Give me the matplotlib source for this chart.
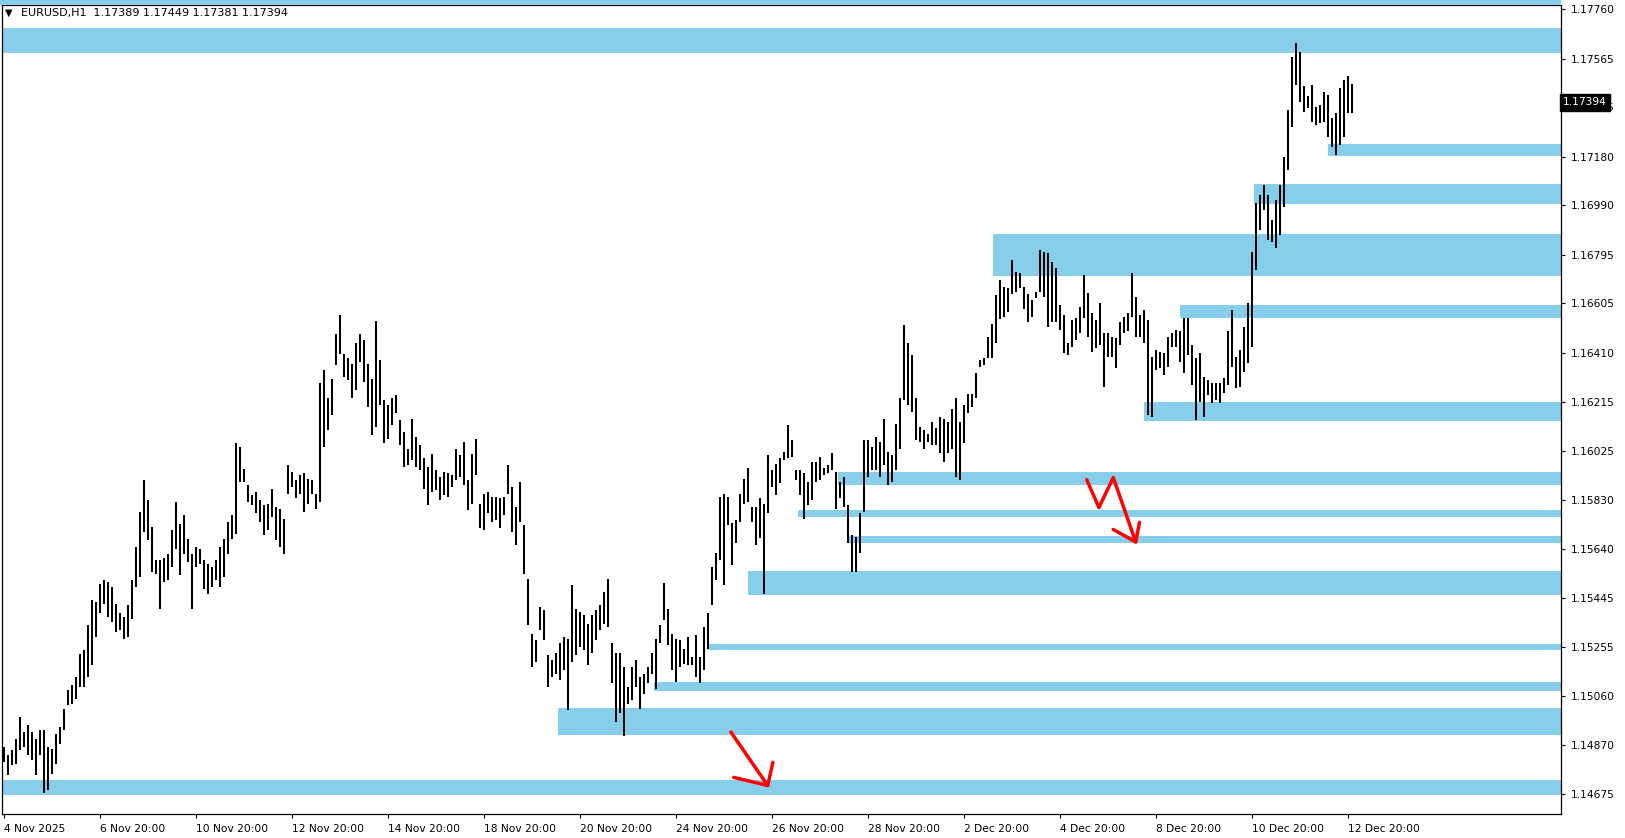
import matplotlib
matplotlib.use("Agg")
import matplotlib.pyplot as plt
from matplotlib.patches import Rectangle
import numpy as np

# EURUSD H1, one sample for every second bar
# prices given in points (0.00001) above 1.14000
highs_pts = [
    862, 829, 848, 894, 979, 921, 947, 921, 894, 927,
    927, 862, 855, 914, 940, 1012, 1084, 1104, 1137, 1228,
    1241, 1340, 1438, 1431, 1503, 1517, 1510, 1490, 1425, 1386,
    1372, 1418, 1517, 1648, 1785, 1910, 1831, 1726, 1595, 1595,
    1602, 1621, 1713, 1824, 1739, 1772, 1680, 1621, 1648, 1641,
    1595, 1582, 1569, 1595, 1648, 1680, 1746, 1772, 2054, 2041,
    1955, 1890, 1851, 1864, 1831, 1811, 1818, 1877, 1805, 1798,
    1759, 1969, 1942, 1910, 1929, 1936, 1916, 1910, 1857, 2290,
    2342, 2231, 2309, 2486, 2558, 2407, 2388, 2368, 2447, 2486,
    2460, 2368, 2309, 2534, 2381, 2224, 2204, 2231, 2244, 2145,
    2100, 2034, 2152, 2080, 2047, 1995, 1962, 2014, 1949, 1923,
    1942, 1936, 1929, 2034, 2008, 2060, 1910, 2014, 2073, 1818,
    1857, 1864, 1844, 1844, 1838, 1844, 1969, 1883, 1805, 1903,
    1733, 1520, 1307, 1281, 1412, 1399, 1222, 1202, 1229, 1268,
    1294, 1287, 1497, 1405, 1392, 1379, 1346, 1379, 1399, 1419,
    1471, 1523, 1268, 1229, 1229, 1176, 1098, 1176, 1202, 1137,
    1150, 1176, 1229, 1287, 1340, 1504, 1405, 1307, 1287, 1281,
    1248, 1294, 1215, 1301, 1215, 1333, 1386, 1569, 1622, 1844,
    1857, 1844, 1740, 1753, 1857, 1916, 1956, 1805, 1805, 1838,
    1818, 2008, 1949, 1975, 1995, 2021, 2126, 2067, 1949, 1949,
    1936, 1903, 1982, 1982, 2001, 1956, 1969, 2015, 1943, 1903,
    1923, 1812, 1694, 1687, 1779, 2067, 2067, 2041, 2080, 2060,
    2152, 2021, 2008, 2132, 2231, 2519, 2447, 2401, 2231, 2119,
    2106, 2093, 2139, 2113, 2159, 2152, 2139, 2191, 2231, 2139,
    2205, 2250, 2250, 2329, 2381, 2388, 2473, 2525, 2637, 2696,
    2670, 2663, 2774, 2729, 2722, 2670, 2643, 2617, 2650, 2816,
    2807, 2803, 2768, 2742, 2597, 2558, 2447, 2539, 2546, 2592,
    2716, 2644, 2565, 2539, 2605, 2487, 2487, 2474, 2467, 2533,
    2552, 2565, 2723, 2631, 2559, 2579, 2539, 2395, 2421, 2415,
    2408, 2474, 2487, 2500, 2494, 2546, 2546, 2441, 2389, 2408,
    2317, 2303, 2290, 2290, 2290, 2310, 2494, 2579, 2395, 2421,
    2513, 2605, 2808, 2998, 3031, 3070, 3031, 2932, 3011, 3070,
    3181, 3365, 3574, 3627, 3594, 3459, 3420, 3463, 3375, 3384,
    3437, 3423, 3332, 3351, 3450, 3482, 3498, 3467,
]
lows_pts = [
    803, 750, 790, 796, 848, 862, 829, 809, 750, 829,
    681, 691, 757, 796, 875, 927, 1025, 1032, 1051, 1097,
    1097, 1137, 1183, 1294, 1386, 1425, 1372, 1353, 1314, 1320,
    1287, 1294, 1366, 1490, 1530, 1707, 1674, 1549, 1543, 1405,
    1510, 1517, 1569, 1641, 1536, 1621, 1589, 1405, 1569, 1582,
    1484, 1464, 1490, 1517, 1490, 1530, 1621, 1680, 1700, 1903,
    1903, 1824, 1811, 1779, 1746, 1693, 1713, 1765, 1674, 1648,
    1621, 1857, 1883, 1838, 1857, 1785, 1818, 1857, 1798, 1824,
    2041, 2106, 2165, 2361, 2407, 2316, 2303, 2231, 2263, 2375,
    2296, 2198, 2086, 2119, 2204, 2054, 2073, 2126, 2172, 2047,
    1962, 1969, 1988, 1962, 1949, 1877, 1811, 1864, 1870, 1831,
    1851, 1844, 1883, 1910, 1923, 1890, 1792, 1818, 1929, 1720,
    1713, 1779, 1746, 1752, 1720, 1772, 1857, 1707, 1654, 1746,
    1543, 1340, 1176, 1196, 1320, 1281, 1098, 1137, 1150, 1124,
    1163, 1006, 1196, 1222, 1255, 1242, 1183, 1229, 1281, 1320,
    1346, 1333, 1111, 960, 993, 905, 1032, 1045, 1098, 1012,
    1071, 1111, 1150, 1091, 1268, 1360, 1261, 1163, 1117, 1176,
    1189, 1183, 1183, 1137, 1111, 1163, 1248, 1419, 1517, 1595,
    1497, 1733, 1576, 1661, 1746, 1818, 1825, 1746, 1654, 1681,
    1464, 1779, 1884, 1851, 1897, 1988, 1995, 2001, 1910, 1851,
    1759, 1812, 1831, 1903, 1910, 1929, 1936, 1949, 1798, 1838,
    1805, 1661, 1550, 1550, 1622, 1785, 1923, 1949, 1949, 1923,
    1969, 1890, 1903, 1949, 2034, 2224, 2205, 2178, 2067, 2060,
    2034, 2060, 2047, 2047, 2015, 1982, 2015, 2034, 1923, 1910,
    2054, 2172, 2198, 2231, 2355, 2362, 2388, 2388, 2447, 2545,
    2552, 2571, 2643, 2650, 2663, 2584, 2532, 2552, 2624, 2650,
    2630, 2512, 2532, 2532, 2499, 2408, 2401, 2434, 2461, 2487,
    2546, 2474, 2415, 2428, 2441, 2277, 2395, 2395, 2349, 2441,
    2487, 2494, 2552, 2474, 2474, 2448, 2166, 2159, 2343, 2349,
    2323, 2356, 2434, 2434, 2376, 2330, 2402, 2284, 2146, 2218,
    2159, 2245, 2212, 2225, 2212, 2251, 2284, 2356, 2271, 2277,
    2336, 2369, 2434, 2736, 2893, 2972, 2854, 2847, 2821, 2873,
    2985, 3129, 3299, 3463, 3397, 3358, 3371, 3319, 3306, 3312,
    3319, 3260, 3220, 3188, 3227, 3260, 3351, 3351,
]
base_price = 1.14
bar_step = 2  # each sample covers two hourly bars

# supply/demand zones: first bar index (-5 = from the left edge), low, high
zone_starts = [-5, 662, 625, 494.5, 588, 570, 417, 397, 422, 372, 352, 325, 277, -5]
zone_lows = [1.17587, 1.17183, 1.16995, 1.16712, 1.16548, 1.16143, 1.15891,
             1.15765, 1.15663, 1.15459, 1.15244, 1.15081, 1.14908, 1.14672]
zone_highs = [1.17687, 1.17230, 1.17073, 1.16877, 1.16598, 1.16216, 1.15941,
              1.15794, 1.15689, 1.15552, 1.15266, 1.15118, 1.15013, 1.14730]

# hand drawn red arrows
arrow1_x = [363.6, 382.0]
arrow1_y = [1.14920, 1.14710]
arrow1_head_x = [365.0, 382.0, 384.6]
arrow1_head_y = [1.14742, 1.14710, 1.14801]
arrow2_x = [541.5, 547.6, 554.8, 566.0]
arrow2_y = [1.15912, 1.15802, 1.15920, 1.15667]
arrow2_head_x = [554.8, 566.0, 567.9]
arrow2_head_y = [1.15716, 1.15667, 1.15744]

ytick_vals = [1.17760, 1.17565, 1.17375, 1.17180, 1.16990, 1.16795, 1.16605,
              1.16410, 1.16215, 1.16025, 1.15830, 1.15640, 1.15445, 1.15255,
              1.15060, 1.14870, 1.14675]
xtick_bars = [0, 48, 96, 144, 192, 240, 288, 336, 384, 432, 480, 528, 576, 624, 672]
xtick_labels = ["4 Nov 2025", "6 Nov 20:00", "10 Nov 20:00", "12 Nov 20:00",
                "14 Nov 20:00", "18 Nov 20:00", "20 Nov 20:00", "24 Nov 20:00",
                "26 Nov 20:00", "28 Nov 20:00", "2 Dec 20:00", "4 Dec 20:00",
                "8 Dec 20:00", "10 Dec 20:00", "12 Dec 20:00"]

symbol = "EURUSD,H1"
last_ohlc = [1.17389, 1.17449, 1.17381, 1.17394]

zone_color = "#87CEEB"
plt.rcParams['font.family'] = ['DejaVu Sans']

W, H = 1625, 838
fig = plt.figure(figsize=(W / 100, H / 100), dpi=100)
ax = fig.add_axes([2 / W, (H - 814) / H, (1561 - 2) / W, (814 - 5.5) / H])
ax.set_xlim(-0.85, 778.65)
ax.set_ylim(1.14598, 1.17775)

# thin strip of the window above the chart frame
fig.patches.append(Rectangle((0, (H - 5) / H), 1561 / W, 5 / H,
                             transform=fig.transFigure, fc=zone_color, ec='none'))

for s, lo, hi in zip(zone_starts, zone_lows, zone_highs):
    ax.add_patch(Rectangle((s, lo), 2000, hi - lo, fc=zone_color, ec='none', zorder=1))

n = min(len(highs_pts), len(lows_pts))
xs = np.arange(n) * bar_step
highs = base_price + np.array(highs_pts[:n]) * 1e-5
lows = base_price + np.array(lows_pts[:n]) * 1e-5
ax.vlines(xs, lows, highs, colors='black', lw=1.45, zorder=2)

red_kw = dict(color='#ff0000', lw=2.5, solid_capstyle='round', solid_joinstyle='round', zorder=3)
ax.plot(arrow1_x, arrow1_y, **red_kw)
ax.plot(arrow1_head_x, arrow1_head_y, **red_kw)
ax.plot(arrow2_x, arrow2_y, **red_kw)
ax.plot(arrow2_head_x, arrow2_head_y, **red_kw)

ax.yaxis.tick_right()
ax.set_yticks(ytick_vals)
ax.set_yticklabels([f"{v:.5f}" for v in ytick_vals])
ax.tick_params(axis='y', direction='out', length=3, width=0.8, pad=4, labelsize=7.7)
ax.set_xticks(xtick_bars)
ax.set_xticklabels(xtick_labels)
ax.tick_params(axis='x', direction='out', length=3, width=0.8, pad=4, labelsize=7.7)
for t in ax.get_xticklabels():
    t.set_horizontalalignment('left')
for sp in ax.spines.values():
    sp.set_linewidth(0.9)
    sp.set_color('black')

# current price marker on the price scale
ax.text(1.0 + 2 / 1559, last_ohlc[3], f"{last_ohlc[3]:.5f}", transform=ax.get_yaxis_transform(),
        ha='left', va='center', color='white', fontsize=7.7, clip_on=False, zorder=5,
        bbox=dict(boxstyle='square,pad=0.3', fc='black', ec='black'))

# chart header
fig.text(5 / W, 1 - 13 / H, "\u25bc", fontsize=7, va='center', ha='left')
fig.text(21 / W, 1 - 13 / H, symbol + "  " + " ".join(f"{v:.5f}" for v in last_ohlc),
         fontsize=8, va='center', ha='left')

fig.savefig("out.png", dpi=100)
